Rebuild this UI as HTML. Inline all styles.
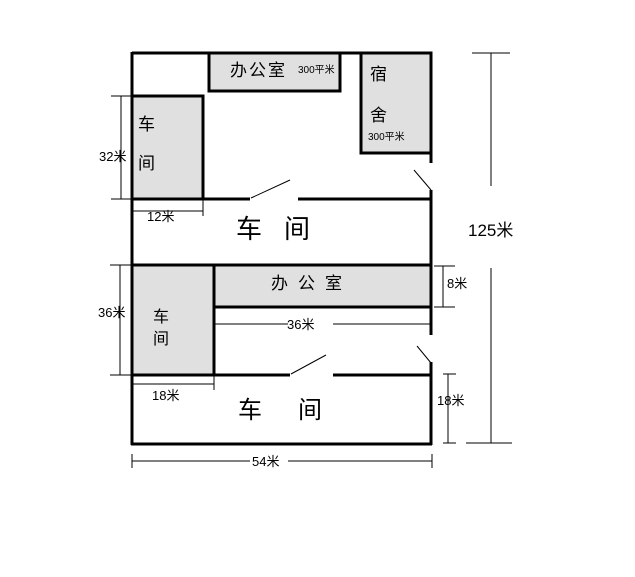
<!DOCTYPE html>
<html><head><meta charset="utf-8"><style>
html,body{margin:0;padding:0;background:#fff;}
svg{display:block;}
text{font-family:"Liberation Sans","Noto Sans CJK SC","WenQuanYi Zen Hei",sans-serif;fill:#000;}
</style></head><body>
<svg width="635" height="577" viewBox="0 0 635 577" xmlns="http://www.w3.org/2000/svg">
<rect width="635" height="577" fill="#fff"/>
<!-- gray rooms -->
<rect x="209" y="53" width="131" height="38" fill="#e0e0e0" stroke="#000" stroke-width="3"/>
<rect x="361" y="53" width="70" height="100" fill="#e0e0e0" stroke="#000" stroke-width="3"/>
<rect x="132" y="96" width="71" height="103" fill="#e0e0e0" stroke="#000" stroke-width="3"/>
<rect x="214" y="265" width="217" height="42" fill="#e0e0e0" stroke="#000" stroke-width="3"/>
<rect x="132" y="265" width="82" height="110" fill="#e0e0e0" stroke="#000" stroke-width="3"/>
<g stroke="#000" stroke-width="3" fill="none">
<!-- outer -->
<line x1="132" y1="53" x2="432" y2="53"/>
<line x1="132" y1="52" x2="132" y2="445"/>
<line x1="131" y1="444" x2="432" y2="444"/>
<line x1="431" y1="52" x2="431" y2="163"/>
<line x1="431" y1="190" x2="431" y2="335"/>
<line x1="431" y1="362" x2="431" y2="445"/>
<!-- walls -->
<line x1="132" y1="199" x2="250" y2="199"/>
<line x1="298" y1="199" x2="432" y2="199"/>
<line x1="132" y1="265" x2="432" y2="265"/>
<line x1="214" y1="375" x2="290" y2="375"/>
<line x1="333" y1="375" x2="432" y2="375"/>
</g>
<g stroke="#000" stroke-width="1" fill="none">
<!-- doors -->
<line x1="251" y1="198" x2="290" y2="180"/>
<line x1="414" y1="170" x2="431" y2="190"/>
<line x1="291" y1="374" x2="326" y2="355"/>
<line x1="417" y1="346" x2="431" y2="363"/>
<!-- 32 -->
<line x1="121" y1="96" x2="121" y2="199"/>
<line x1="111" y1="96" x2="132" y2="96"/><line x1="111" y1="199" x2="132" y2="199"/>
<!-- 12 -->
<line x1="132" y1="211" x2="203" y2="211"/><line x1="203" y1="199" x2="203" y2="216"/>
<!-- 36 left -->
<line x1="120" y1="265" x2="120" y2="375"/>
<line x1="110" y1="265" x2="132" y2="265"/><line x1="110" y1="375" x2="132" y2="375"/>
<!-- 18 bottom -->
<line x1="132" y1="384" x2="214" y2="384"/><line x1="214" y1="375" x2="214" y2="390"/>
<!-- 36 middle -->
<line x1="214" y1="324" x2="288" y2="324"/><line x1="333" y1="324" x2="431" y2="324"/>
<!-- 8 -->
<line x1="443" y1="266" x2="443" y2="307"/>
<line x1="434" y1="266" x2="455" y2="266"/><line x1="434" y1="307" x2="455" y2="307"/>
<!-- 18 right -->
<line x1="448" y1="374" x2="448" y2="443"/>
<line x1="443" y1="374" x2="456" y2="374"/><line x1="443" y1="443" x2="456" y2="443"/>
<!-- 54 -->
<line x1="132" y1="461" x2="250" y2="461"/><line x1="288" y1="461" x2="432" y2="461"/>
<line x1="132" y1="454" x2="132" y2="468"/><line x1="432" y1="454" x2="432" y2="468"/>
<!-- 125 -->
<line x1="491" y1="53" x2="491" y2="186"/><line x1="491" y1="268" x2="491" y2="443"/>
<line x1="472" y1="53" x2="510" y2="53"/><line x1="466" y1="443" x2="512" y2="443"/>
</g>
<!-- labels -->
<text x="230" y="76" font-size="17" letter-spacing="2">办公室</text>
<text x="298" y="73" font-size="10">300平米</text>
<text x="370" y="80" font-size="17">宿</text>
<text x="370" y="121" font-size="17">舍</text>
<text x="368" y="140" font-size="10">300平米</text>
<text x="138" y="130" font-size="17">车</text>
<text x="138" y="169" font-size="17">间</text>
<text x="99" y="161" font-size="13">32米</text>
<text x="147" y="221" font-size="13">12米</text>
<text x="236" y="238" font-size="26">车</text>
<text x="284" y="238" font-size="26">间</text>
<text x="271" y="289" font-size="17" letter-spacing="10">办公室</text>
<text x="153" y="322" font-size="16">车</text>
<text x="153" y="344" font-size="16">间</text>
<text x="98" y="317" font-size="13">36米</text>
<text x="287" y="329" font-size="13">36米</text>
<text x="447" y="288" font-size="13">8米</text>
<text x="152" y="400" font-size="13">18米</text>
<text x="238" y="418" font-size="24">车</text>
<text x="298" y="418" font-size="24">间</text>
<text x="437" y="405" font-size="13">18米</text>
<text x="252" y="466" font-size="13">54米</text>
<text x="468" y="236" font-size="17">125米</text>
</svg>
</body></html>
